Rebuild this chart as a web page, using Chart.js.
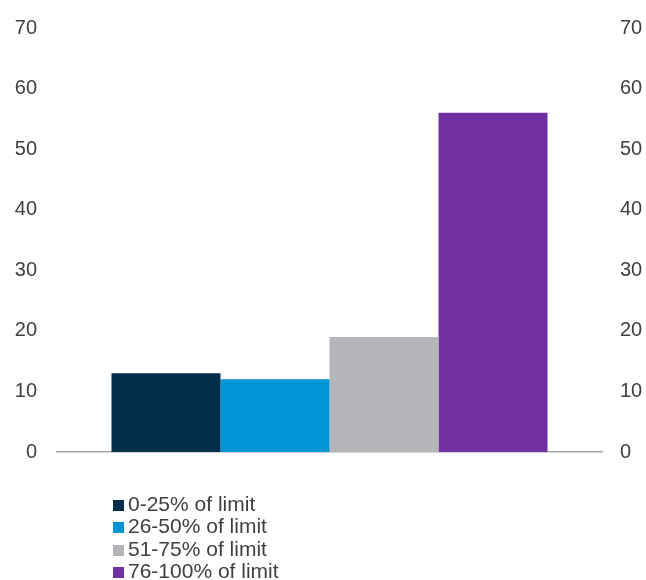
<!DOCTYPE html>
<html>
<head>
<meta charset="utf-8">
<script src="https://cdn.jsdelivr.net/npm/chart.js@4.4.0/dist/chart.umd.min.js"></script>
<style>
  html, body { margin: 0; padding: 0; background: #fff; }
  #wrap { position: relative; width: 646px; height: 580px; }
  #legend {
    position: absolute; left: 113px; top: 493px;
    font-family: 'Liberation Sans', Arial, sans-serif; font-size: 21px;
    color: #404040; line-height: 22.3px;
  }
  #legend .item { white-space: nowrap; }
  #legend .box { display: inline-block; width: 11px; height: 11px; margin-right: 4px; vertical-align: 0px; }
</style>
</head>
<body>
<div id="wrap">
  <canvas id="chart" width="646" height="580"></canvas>
  <div id="legend"></div>
</div>
<script>
var categories = [''];
var seriesNames = ['0-25% of limit', '26-50% of limit', '51-75% of limit', '76-100% of limit'];
var seriesValues = [13, 12, 19, 56];
var seriesColors = ['#022d4b', '#0096d6', '#b4b5b8', '#7030a0'];
var tickMin = 0, tickMax = 70, tickStep = 10;

var datasets = [];
for (var i = 0; i < seriesNames.length; i++) {
    datasets.push({
        label: seriesNames[i],
        data: [seriesValues[i]],
        backgroundColor: seriesColors[i],
        borderWidth: 0,
        categoryPercentage: 0.8,
        barPercentage: 1.0
    });
}

var tickFont = { family: "'Liberation Sans', Arial, sans-serif", size: 20 };

// fixed axis widths, and no extra label padding above/below the plot
function fitAxis(w) {
    return function (scale) {
        scale.width = w;
        scale.paddingTop = 0;
        scale.paddingBottom = 0;
    };
}

new Chart(document.getElementById('chart'), {
    type: 'bar',
    data: { labels: categories, datasets: datasets },
    options: {
        responsive: false,
        animation: false,
        layout: { padding: { left: 14, right: 0, top: 28, bottom: 128 } },
        plugins: { legend: { display: false }, tooltip: { enabled: false } },
        scales: {
            x: {
                grid: { display: false, drawTicks: false },
                border: { display: true, color: '#a6a6a6', width: 1.5 },
                ticks: { display: false }
            },
            y: {
                position: 'left',
                min: tickMin, max: tickMax,
                grid: { display: false, drawTicks: false },
                border: { display: false },
                ticks: { stepSize: tickStep, color: '#404040', font: tickFont, padding: 20 },
                afterFit: fitAxis(43)
            },
            y2: {
                position: 'right',
                min: tickMin, max: tickMax,
                grid: { display: false, drawTicks: false },
                border: { display: false },
                ticks: { stepSize: tickStep, color: '#404040', font: tickFont, padding: 18 },
                afterFit: fitAxis(44)
            }
        }
    }
});

var legend = document.getElementById('legend');
for (var j = 0; j < seriesNames.length; j++) {
    legend.innerHTML += '<div class="item"><span class="box" style="background:' + seriesColors[j] + '"></span>' + seriesNames[j] + '</div>';
}
</script>
</body>
</html>
